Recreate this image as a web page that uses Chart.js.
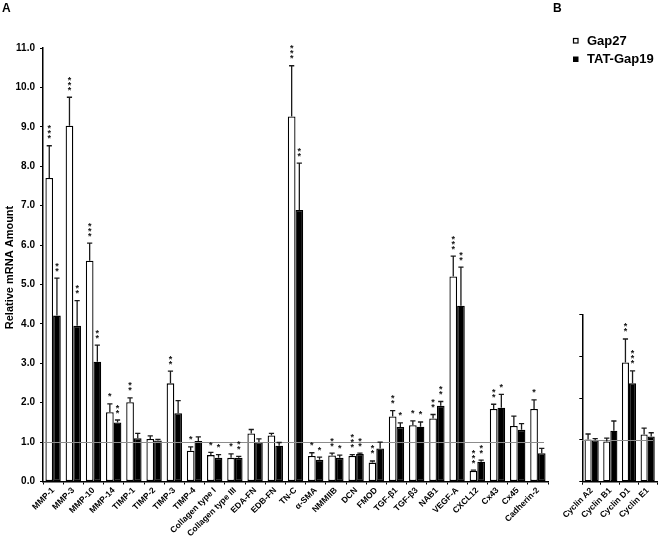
<!DOCTYPE html>
<html>
<head>
<meta charset="utf-8">
<script src="https://cdn.jsdelivr.net/npm/chart.js@4.4.1/dist/chart.umd.min.js"></script>
<style>
  html, body { margin:0; padding:0; background:#fff; }
  #wrap { position:relative; width:660px; height:540px; overflow:hidden; }
  canvas { position:absolute; top:0; }
  #cA { left:0; }
  #cB { left:540px; }
</style>
</head>
<body>
<div id="wrap">
  <canvas id="cA" width="560" height="540"></canvas>
  <canvas id="cB" width="120" height="540"></canvas>
</div>
<script>
// ---------- DATA ----------
const categoriesA = ['MMP-1','MMP-3','MMP-10','MMP-14','TIMP-1','TIMP-2','TIMP-3','TIMP-4','Collagen type I','Collagen type III','EDA-FN','EDB-FN','TN-C','α-SMA','NMMIIB','DCN','FMOD','TGF-β1','TGF-β3','NAB1','VEGF-A','CXCL12','Cx43','Cx45','Cadherin-2'];
const gap27A    = [7.70, 9.03, 5.60, 1.76, 2.01, 1.08, 2.49, 0.78, 0.67, 0.60, 1.22, 1.17, 9.26, 0.65, 0.66, 0.65, 0.48, 1.65, 1.43, 1.60, 5.20, 0.27, 1.84, 1.41, 1.84];
const gap27ErrA = [0.82, 0.72, 0.45, 0.21, 0.11, 0.08, 0.31, 0.10, 0.07, 0.10, 0.10, 0.05, 1.29, 0.08, 0.06, 0.03, 0.04, 0.15, 0.11, 0.10, 0.52, 0.02, 0.12, 0.25, 0.23];
const gap27SigA = ['***','***','***','*','**','','**','*','*','*','','','***','*','**','***','**','**','*','**','***','***','**','','*'];
const tatA      = [4.21, 3.95, 3.04, 1.50, 1.10, 1.04, 1.73, 1.03, 0.60, 0.60, 1.00, 0.91, 6.89, 0.55, 0.60, 0.70, 0.84, 1.38, 1.39, 1.92, 4.46, 0.50, 1.87, 1.31, 0.72];
const tatErrA   = [0.95, 0.64, 0.42, 0.06, 0.12, 0.03, 0.32, 0.10, 0.08, 0.04, 0.08, 0.08, 1.19, 0.07, 0.07, 0.02, 0.16, 0.11, 0.12, 0.11, 0.98, 0.04, 0.34, 0.16, 0.12];
const tatSigA   = ['**','**','**','**','','','','','*','**','','','**','*','*','**','','*','*','**','**','**','*','',''];
const yTicksA   = ['0.0','1.0','2.0','3.0','4.0','5.0','6.0','7.0','8.0','9.0','10.0','11.0'];

const categoriesB = ['Cyclin A2','Cyclin B1','Cyclin D1','Cyclin E1'];
const gap27B    = [1.01, 0.96, 2.85, 1.13];
const gap27ErrB = [0.13, 0.08, 0.56, 0.15];
const gap27SigB = ['', '', '**', ''];
const tatB      = [0.99, 1.22, 2.35, 1.08];
const tatErrB   = [0.04, 0.23, 0.30, 0.09];
const tatSigB   = ['', '', '***', ''];

const seriesNames = ['Gap27', 'TAT-Gap19'];
const yTitle = 'Relative mRNA Amount';

// ---------- STYLE ----------
const FONT = '"Liberation Sans", Arial, Helvetica, sans-serif';
Chart.defaults.font.family = FONT;
Chart.defaults.font.weight = 'bold';
Chart.defaults.color = '#000';

const annot = {
  id: 'annot',
  afterDatasetsDraw(chart) {
    const ctx = chart.ctx, ys = chart.scales.y, a = chart.chartArea;
    ctx.save();
    // reference line at 1.0
    const y1 = Math.round(ys.getPixelForValue(1)) + 0.5;
    ctx.strokeStyle = '#8c8c8c'; ctx.lineWidth = 1;
    ctx.beginPath(); ctx.moveTo(a.left, y1); ctx.lineTo(a.right - 4, y1); ctx.stroke();
    chart.data.datasets.forEach((ds, di) => {
      const meta = chart.getDatasetMeta(di);
      meta.data.forEach((bar, i) => {
        const v = ds.data[i], e = ds.errors[i];
        const pb = ys.getPixelForValue(v), pt = ys.getPixelForValue(v + e);
        ctx.strokeStyle = '#1a1a1a'; ctx.lineWidth = 1.3;
        ctx.beginPath();
        ctx.moveTo(bar.x, pb); ctx.lineTo(bar.x, pt);
        ctx.moveTo(bar.x - 2.6, pt); ctx.lineTo(bar.x + 2.6, pt);
        ctx.stroke();
        const n = ds.sig[i].length;
        ctx.fillStyle = '#111';
        ctx.font = 'bold 9px ' + FONT;
        ctx.textAlign = 'center'; ctx.textBaseline = 'middle';
        for (let k = 0; k < n; k++) {
          ctx.fillText('*', bar.x, pt - 9 - k * 5 + 2);
        }
      });
    });
    ctx.restore();
  }
};

function makeDatasets(g, ge, gs, t, te, ts) {
  return [
    { label: seriesNames[0], data: g, errors: ge, sig: gs, backgroundColor: '#fff', borderColor: '#000', borderWidth: 1.3, borderSkipped: false, categoryPercentage: 0.76, barPercentage: 1.0 },
    { label: seriesNames[1], data: t, errors: te, sig: ts, backgroundColor: '#000', borderColor: '#000', borderWidth: 1.3, borderSkipped: false, categoryPercentage: 0.76, barPercentage: 1.0 }
  ];
}

const xScale = (h) => ({
  type: 'category',
  offset: true,
  grid: { display: true, drawOnChartArea: false, drawTicks: true, tickLength: 3, color: '#000', offset: true },
  border: { display: true, color: '#000', width: 1.5 },
  ticks: { autoSkip: false, minRotation: 45, maxRotation: 45, padding: 1, font: { size: 8.5, weight: 'bold' }, color: '#000' },
  afterFit: (s) => { s.height = h; }
});

// ---------- CHART A ----------
new Chart(document.getElementById('cA'), {
  type: 'bar',
  data: { labels: categoriesA, datasets: makeDatasets(gap27A, gap27ErrA, gap27SigA, tatA, tatErrA, tatSigA) },
  options: {
    responsive: false, animation: false, devicePixelRatio: 1,
    layout: { padding: { top: 48, right: 12, bottom: 0, left: 0 } },
    plugins: { legend: { display: false }, tooltip: { enabled: false } },
    scales: {
      x: xScale(58.5),
      y: {
        min: 0, max: 11,
        grid: { display: true, drawOnChartArea: false, drawTicks: true, tickLength: 3, color: '#000' },
        border: { display: true, color: '#000', width: 1.5 },
        ticks: { stepSize: 1, padding: 5, font: { size: 10, weight: 'bold' }, color: '#000', callback: (v, i) => yTicksA[i] },
        afterFit: (s) => { s.width = 43; }
      }
    }
  },
  plugins: [annot, {
    id: 'labelsA',
    afterDraw(chart) {
      const ctx = chart.ctx;
      ctx.save();
      ctx.fillStyle = '#000';
      ctx.font = 'bold 12px ' + FONT;
      ctx.textAlign = 'left'; ctx.textBaseline = 'alphabetic';
      ctx.fillText('A', 2, 12);
      ctx.font = 'bold 11px ' + FONT;
      ctx.translate(10, 267.5);
      ctx.rotate(-Math.PI / 2);
      ctx.textAlign = 'center'; ctx.textBaseline = 'middle';
      ctx.fillText(yTitle, 0, 0);
      ctx.restore();
    }
  }]
});

// ---------- CHART B ----------
new Chart(document.getElementById('cB'), {
  type: 'bar',
  data: { labels: categoriesB, datasets: makeDatasets(gap27B, gap27ErrB, gap27SigB, tatB, tatErrB, tatSigB) },
  options: {
    responsive: false, animation: false, devicePixelRatio: 1,
    layout: { padding: { top: 314.3, right: 3, bottom: 0, left: 0 } },
    plugins: { legend: { display: false }, tooltip: { enabled: false } },
    scales: {
      x: xScale(58.3),
      y: {
        min: 0, max: 4,
        grid: { display: true, drawOnChartArea: false, drawTicks: true, tickLength: 3, color: '#000' },
        border: { display: true, color: '#000', width: 1.5 },
        ticks: { stepSize: 1, display: false },
        afterFit: (s) => { s.width = 42.3; }
      }
    }
  },
  plugins: [annot, {
    id: 'labelsB',
    afterDraw(chart) {
      const ctx = chart.ctx;
      ctx.save();
      ctx.fillStyle = '#000';
      ctx.font = 'bold 12px ' + FONT;
      ctx.textAlign = 'left'; ctx.textBaseline = 'alphabetic';
      ctx.fillText('B', 13, 12);
      // legend
      ctx.font = 'bold 13px ' + FONT;
      ctx.textBaseline = 'middle';
      ctx.strokeStyle = '#000'; ctx.lineWidth = 1.2;
      ctx.fillStyle = '#fff';
      ctx.fillRect(33.5, 38.5, 4.5, 4.5);
      ctx.strokeRect(33.5, 38.5, 4.5, 4.5);
      ctx.fillStyle = '#000';
      ctx.fillRect(33, 56.5, 5.5, 5.5);
      ctx.fillText(seriesNames[0], 47, 41);
      ctx.fillText(seriesNames[1], 47, 59.5);
      ctx.restore();
    }
  }]
});
</script>
</body>
</html>
